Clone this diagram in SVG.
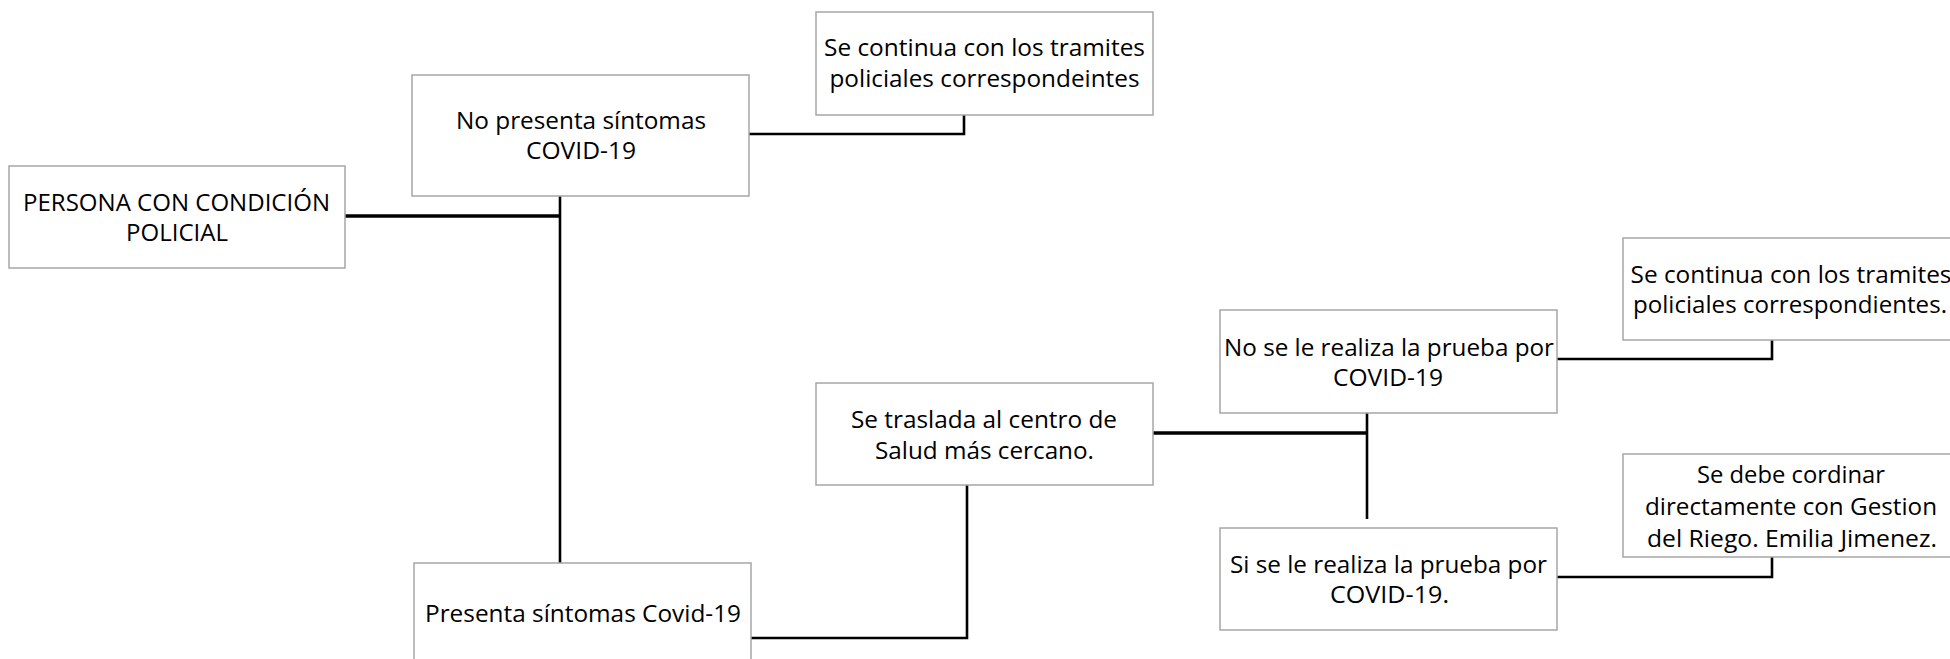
<svg xmlns="http://www.w3.org/2000/svg" width="1950" height="659" viewBox="0 0 1950 659">
<style>
.box{fill:#fff;stroke:#a6a6a6;stroke-width:1.5}
.t{font-family:"Open Sans","Noto Sans","Liberation Sans",sans-serif;font-size:24.5px;fill:#000;text-anchor:middle}
.c{fill:none;stroke:#000;stroke-width:2.6}
.ck{fill:none;stroke:#000;stroke-width:3.6}
</style>
<rect width="1950" height="659" fill="#fff"/>
<g id="connectors">
<path class="ck" d="M345,216 H561"/>
<path class="c" d="M560,196 V563"/>
<path class="c" d="M749,134 H964 V115"/>
<path class="c" d="M751,638 H967 V485"/>
<path class="ck" d="M1153,433 H1368"/>
<path class="c" d="M1367,413 V519"/>
<path class="c" d="M1557,359 H1772 V340"/>
<path class="c" d="M1557,577 H1772 V557"/>
</g>
<g id="persona">
<rect class="box" x="9" y="166" width="336" height="102"/>
<text class="t" x="176.5" y="211" textLength="307" lengthAdjust="spacingAndGlyphs">PERSONA CON CONDICIÓN</text>
<text class="t" x="177" y="241" textLength="102" lengthAdjust="spacingAndGlyphs">POLICIAL</text>
</g>
<g id="no-sintomas">
<rect class="box" x="412" y="75" width="337" height="121"/>
<text class="t" x="581" y="129" textLength="250" lengthAdjust="spacingAndGlyphs">No presenta síntomas</text>
<text class="t" x="581" y="159" textLength="110" lengthAdjust="spacingAndGlyphs">COVID-19</text>
</g>
<g id="continua-1">
<rect class="box" x="816" y="12" width="337" height="103"/>
<text class="t" x="984.5" y="56" textLength="321" lengthAdjust="spacingAndGlyphs">Se continua con los tramites</text>
<text class="t" x="984.5" y="87" textLength="310" lengthAdjust="spacingAndGlyphs">policiales correspondeintes</text>
</g>
<g id="sintomas">
<rect class="box" x="414" y="563" width="337" height="110"/>
<text class="t" x="583" y="622" textLength="316" lengthAdjust="spacingAndGlyphs">Presenta síntomas Covid-19</text>
</g>
<g id="traslada">
<rect class="box" x="816" y="383" width="337" height="102"/>
<text class="t" x="984" y="428" textLength="266" lengthAdjust="spacingAndGlyphs">Se traslada al centro de</text>
<text class="t" x="984.5" y="459" textLength="219" lengthAdjust="spacingAndGlyphs">Salud más cercano.</text>
</g>
<g id="no-prueba">
<rect class="box" x="1220" y="310" width="337" height="103"/>
<text class="t" x="1389" y="356" textLength="330" lengthAdjust="spacingAndGlyphs">No se le realiza la prueba por</text>
<text class="t" x="1388" y="386" textLength="110" lengthAdjust="spacingAndGlyphs">COVID-19</text>
</g>
<g id="si-prueba">
<rect class="box" x="1220" y="528" width="337" height="102"/>
<text class="t" x="1388.5" y="573" textLength="317" lengthAdjust="spacingAndGlyphs">Si se le realiza la prueba por</text>
<text class="t" x="1389.5" y="603" textLength="119" lengthAdjust="spacingAndGlyphs">COVID-19.</text>
</g>
<g id="continua-2">
<rect class="box" x="1623" y="238" width="336" height="102"/>
<text class="t" x="1791" y="283" textLength="321" lengthAdjust="spacingAndGlyphs">Se continua con los tramites</text>
<text class="t" x="1790" y="313" textLength="314" lengthAdjust="spacingAndGlyphs">policiales correspondientes.</text>
</g>
<g id="coordinar">
<rect class="box" x="1623" y="454" width="336" height="103"/>
<text class="t" x="1791" y="483" textLength="188" lengthAdjust="spacingAndGlyphs">Se debe cordinar</text>
<text class="t" x="1791" y="515" textLength="292" lengthAdjust="spacingAndGlyphs">directamente con Gestion</text>
<text class="t" x="1792" y="547" textLength="290" lengthAdjust="spacingAndGlyphs">del Riego. Emilia Jimenez.</text>
</g>
</svg>
